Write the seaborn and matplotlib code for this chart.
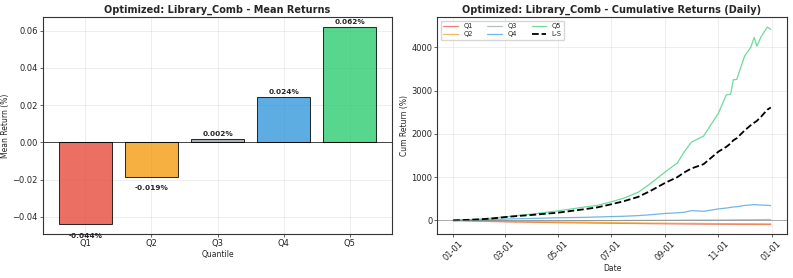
import matplotlib
matplotlib.use("Agg")
import matplotlib.pyplot as plt
import matplotlib.dates as mdates
import seaborn as sns
import pandas as pd
import numpy as np

# bar chart data
quantiles = ["Q1", "Q2", "Q3", "Q4", "Q5"]
mean_returns = [-0.0442, -0.0187, 0.0016, 0.0243, 0.0620]
bar_colors = ["#e74c3c", "#f39c12", "#95a5a6", "#3498db", "#2ecc71"]

# cumulative returns (%)
dates = ["2023-01-01", "2023-01-15", "2023-02-01", "2023-02-15", "2023-03-01", "2023-03-15",
         "2023-04-01", "2023-04-15", "2023-05-01", "2023-05-15", "2023-06-01", "2023-06-15",
         "2023-07-01", "2023-07-15", "2023-08-01", "2023-08-15", "2023-09-01", "2023-09-15",
         "2023-09-22", "2023-10-01", "2023-10-15", "2023-11-01", "2023-11-10", "2023-11-15",
         "2023-11-18", "2023-11-22", "2023-12-01", "2023-12-08", "2023-12-12", "2023-12-15",
         "2023-12-20", "2023-12-27", "2023-12-31"]
q1_cum = [0, -10, -20, -27, -33, -38, -43, -48, -52, -56, -60, -63, -67, -70, -73, -76, -79,
          -82, -83, -85, -87, -89, -90, -91, -91, -92, -93, -93, -94, -94, -94, -95, -95]
q2_cum = [0, -8, -15, -20, -25, -30, -33, -37, -40, -43, -46, -50, -53, -56, -60, -62, -65,
          -68, -69, -70, -72, -74, -75, -76, -76, -77, -78, -78, -78, -79, -79, -80, -80]
q3_cum = [0, -2, -5, -8, -10, -12, -12, -10, -10, -8, -8, -5, -5, -3, 0, 0, 2,
          5, 5, 8, 8, 10, 11, 12, 12, 13, 15, 15, 16, 18, 18, 20, 20]
q4_cum = [0, 5, 12, 20, 30, 38, 45, 52, 60, 65, 70, 78, 88, 95, 110, 130, 160,
          175, 185, 225, 210, 265, 285, 300, 310, 315, 345, 355, 365, 360, 355, 350, 340]
q5_cum = [0, 12, 30, 55, 80, 110, 145, 180, 220, 260, 310, 345, 430, 510, 650, 850, 1120,
          1330, 1560, 1810, 1950, 2480, 2900, 2920, 3250, 3260, 3800, 4000, 4230, 4030, 4250, 4470, 4420]
ls_cum = [0, 10, 25, 45, 75, 100, 125, 150, 178, 215, 260, 300, 372, 440, 543, 680, 868,
          1000, 1100, 1200, 1300, 1590, 1700, 1780, 1850, 1900, 2080, 2200, 2260, 2300, 2400, 2560, 2610]

sns.set_theme(style="whitegrid")
plt.rcParams["font.family"] = ["DejaVu Sans"]
plt.rcParams["axes.edgecolor"] = "#333333"
plt.rcParams["axes.linewidth"] = 0.8
plt.rcParams["grid.color"] = "#b0b0b0"
plt.rcParams["grid.alpha"] = 0.3
plt.rcParams["grid.linewidth"] = 0.5
plt.rcParams["xtick.bottom"] = True
plt.rcParams["ytick.left"] = True
plt.rcParams["xtick.major.size"] = 2
plt.rcParams["ytick.major.size"] = 2
plt.rcParams["xtick.major.width"] = 0.5
plt.rcParams["ytick.major.width"] = 0.5
plt.rcParams["xtick.major.pad"] = 1.5
plt.rcParams["ytick.major.pad"] = 1.5

fig, (ax1, ax2) = plt.subplots(1, 2, figsize=(7.93, 2.78), dpi=100)
fig.subplots_adjust(left=0.054, right=0.992, top=0.938, bottom=0.157, wspace=0.129)

#### Mean returns bars
sns.barplot(x=quantiles, y=mean_returns, hue=quantiles, palette=bar_colors, legend=False,
            saturation=1, width=0.8, edgecolor="black", linewidth=0.75, alpha=0.8, ax=ax1)
ax1.set_xlim(-0.64, 4.64)
ax1.axhline(0, color="black", linewidth=0.5)
for i, v in enumerate(mean_returns):
    if v >= 0:
        ax1.text(i, v + 0.0012, f"{v:.3f}%", ha="center", va="bottom", fontsize=5.3, fontweight="bold")
    else:
        ax1.text(i, v - 0.0045, f"{v:.3f}%", ha="center", va="top", fontsize=5.3, fontweight="bold")
ax1.set_title("Optimized: Library_Comb - Mean Returns", fontsize=7, fontweight="bold", pad=3)
ax1.set_xlabel("Quantile", fontsize=5.5, labelpad=1)
ax1.set_ylabel("Mean Return (%)", fontsize=5.5, labelpad=2)
ax1.tick_params(labelsize=6)
ax1.grid(True, alpha=0.3)

#### Cumulative returns
dt = pd.to_datetime(dates)
series = [("Q1", q1_cum, "#e74c3c"), ("Q2", q2_cum, "#f39c12"), ("Q3", q3_cum, "#95a5a6"),
          ("Q4", q4_cum, "#3498db"), ("Q5", q5_cum, "#2ecc71")]
for name, vals, col in series:
    sns.lineplot(x=dt, y=vals, color=col, linewidth=0.9, alpha=0.7, label=name, ax=ax2)
sns.lineplot(x=dt, y=ls_cum, color="black", linewidth=1.3, linestyle="--", label="L-S", ax=ax2)
ax2.axhline(0, color="gray", linewidth=0.6, alpha=0.7)
ax2.xaxis.set_major_locator(mdates.MonthLocator(bymonth=[1, 3, 5, 7, 9, 11]))
ax2.xaxis.set_major_formatter(mdates.DateFormatter("%m-%d"))
for lab in ax2.get_xticklabels():
    lab.set_rotation(45)
ax2.set_title("Optimized: Library_Comb - Cumulative Returns (Daily)", fontsize=7, fontweight="bold", pad=3)
ax2.set_xlabel("Date", fontsize=5.5, labelpad=1)
ax2.set_ylabel("Cum Return (%)", fontsize=5.5, labelpad=2)
ax2.tick_params(labelsize=6)
ax2.grid(True, alpha=0.3)
ax2.legend(loc="upper left", ncol=3, fontsize=4.8, frameon=True, handlelength=2.2,
           borderpad=0.4, labelspacing=0.3, columnspacing=2.2)

fig.savefig("out.png", dpi=100)
